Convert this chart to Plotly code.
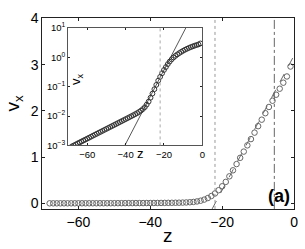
import plotly.graph_objects as go

# ---- data ----
z_vals = [-68, -67, -66, -65, -64, -63, -62, -61, -60, -59, -58, -57, -56, -55,
          -54, -53, -52, -51, -50, -49, -48, -47, -46, -45, -44, -43, -42, -41,
          -40, -39, -38, -37, -36, -35, -34, -33, -32, -31, -30, -29, -28, -27,
          -26, -25, -24, -23, -22, -21, -20, -19, -18, -17, -16, -15, -14, -13,
          -12, -11, -10, -9, -8, -7, -6, -5, -4, -3, -2, -1]
vx_vals = [0.00093, 0.00100, 0.00108, 0.00117, 0.00126, 0.00136, 0.00147, 0.00158,
           0.00171, 0.00184, 0.00199, 0.00215, 0.00232, 0.00250, 0.00270, 0.00291,
           0.00314, 0.00339, 0.00366, 0.00395, 0.00426, 0.00460, 0.00496, 0.00535,
           0.00578, 0.00624, 0.00673, 0.00727, 0.00785, 0.00848, 0.00916, 0.00990,
           0.01070, 0.01160, 0.01260, 0.01380, 0.01530, 0.01730, 0.0200, 0.0245,
           0.0310, 0.0420, 0.0580, 0.0820, 0.115, 0.160, 0.215, 0.285, 0.370,
           0.465, 0.585, 0.715, 0.850, 0.985, 1.120, 1.255, 1.390, 1.530, 1.670,
           1.810, 1.950, 2.085, 2.220, 2.350, 2.480, 2.610, 2.745, 2.960]

lin_fit_z = [-22.8, 0.0]      # dashed linear fit (main panel)
lin_fit_v = [-0.12, 3.2]
exp_fit_z = [-40.4, -8.6]     # straight line in the log inset
exp_fit_v = [1e-3, 1e1]
z_dotted = -22.0
z_dashdot = -5.5

main_xticks = [-60, -40, -20, 0]
main_xticktext = ["\u221260", "\u221240", "\u221220", "0"]
main_yticks = [0, 1, 2, 3, 4]
inset_xticks = [-60, -40, -20, 0]
inset_xticktext = ["\u221260", "\u221240", "\u221220", "0"]
inset_yticks = [1e-3, 1e-2, 1e-1, 1e0, 1e1]
inset_yticktext = ["10<sup>\u22123</sup>", "10<sup>\u22122</sup>", "10<sup>\u22121</sup>",
                   "10<sup>0</sup>", "10<sup>1</sup>"]

W, H = 305, 249
def px(x):
    return x / W
def py(y):
    return 1 - y / H

FONT = "Liberation Sans, Arial, Helvetica, sans-serif"

fig = go.Figure()

# main panel
fig.add_trace(go.Scatter(x=lin_fit_z, y=lin_fit_v, mode="lines",
                         line=dict(color="#666666", width=1, dash="dash"),
                         xaxis="x", yaxis="y", showlegend=False))
fig.add_trace(go.Scatter(x=z_vals, y=vx_vals, mode="markers",
                         marker=dict(symbol="circle-open", size=5.5,
                                     color="#666666", line=dict(width=1, color="#666666")),
                         xaxis="x", yaxis="y", showlegend=False))

# inset
fig.add_trace(go.Scatter(x=exp_fit_z, y=exp_fit_v, mode="lines",
                         line=dict(color="#444444", width=0.9),
                         xaxis="x2", yaxis="y2", showlegend=False))
fig.add_trace(go.Scatter(x=z_vals, y=vx_vals, mode="markers",
                         marker=dict(symbol="circle-open", size=4.8,
                                     color="#333333", line=dict(width=1, color="#333333")),
                         xaxis="x2", yaxis="y2", showlegend=False))

shapes = [
    dict(type="line", xref="x", yref="y domain", x0=z_dotted, x1=z_dotted, y0=0, y1=1,
         line=dict(color="#999999", width=1, dash="dot")),
    dict(type="line", xref="x", yref="y domain", x0=z_dashdot, x1=z_dashdot, y0=0, y1=1,
         line=dict(color="#666666", width=1, dash="dashdot")),
    dict(type="line", xref="x2", yref="y2 domain", x0=z_dotted, x1=z_dotted, y0=0, y1=1,
         line=dict(color="#aaaaaa", width=1, dash="dot")),
]

axis_common = dict(showgrid=False, zeroline=False, showline=True, linecolor="#222222",
                   linewidth=1, mirror="allticks", ticks="inside", tickcolor="#222222")

fig.update_layout(
    width=W, height=H,
    margin=dict(l=0, r=0, t=0, b=0),
    paper_bgcolor="white", plot_bgcolor="white",
    font=dict(family=FONT, color="black"),
    xaxis=dict(domain=[px(43), px(298)], range=[-70, 0], anchor="y",
               tickvals=main_xticks, ticktext=main_xticktext, ticklen=3,
               tickfont=dict(size=14), **axis_common),
    yaxis=dict(domain=[py(212), py(11)], range=[-0.12, 4], anchor="x",
               tickvals=main_yticks, ticklen=3, tickfont=dict(size=14), **axis_common),
    xaxis2=dict(domain=[px(69), px(205)], range=[-70, 0], anchor="y2",
                tickvals=inset_xticks, ticktext=inset_xticktext, ticklen=2,
                tickfont=dict(size=9.5), **{**axis_common, "linecolor": "#555555"}),
    yaxis2=dict(domain=[py(145), py(21)], type="log", range=[-3, 1], anchor="x2",
                tickvals=inset_yticks, ticktext=inset_yticktext, ticklen=2,
                tickfont=dict(size=9.5), **{**axis_common, "linecolor": "#555555"}),
    shapes=shapes,
    annotations=[
        dict(text="z", x=px(170), y=py(240), xref="paper", yref="paper",
             showarrow=False, font=dict(size=19), xanchor="center", yanchor="middle"),
        dict(text="v<sub>x</sub>", x=px(14), y=py(100), xref="paper", yref="paper",
             showarrow=False, font=dict(size=19), textangle=-90,
             xanchor="center", yanchor="middle"),
        dict(text="<b>(a)</b>", x=px(296), y=py(198), xref="paper", yref="paper",
             showarrow=False, font=dict(size=18), xanchor="right", yanchor="middle"),
        dict(text="z", x=px(142), y=py(154), xref="paper", yref="paper",
             showarrow=False, font=dict(size=13), xanchor="center", yanchor="middle"),
        dict(text="v<sub>x</sub>", x=px(77), y=py(75), xref="paper", yref="paper",
             showarrow=False, font=dict(size=13), textangle=-90,
             xanchor="center", yanchor="middle"),
    ],
)

fig.write_html("out.html", config={"displayModeBar": False},
               post_script="document.body.style.margin='0';document.body.style.overflow='hidden';")
